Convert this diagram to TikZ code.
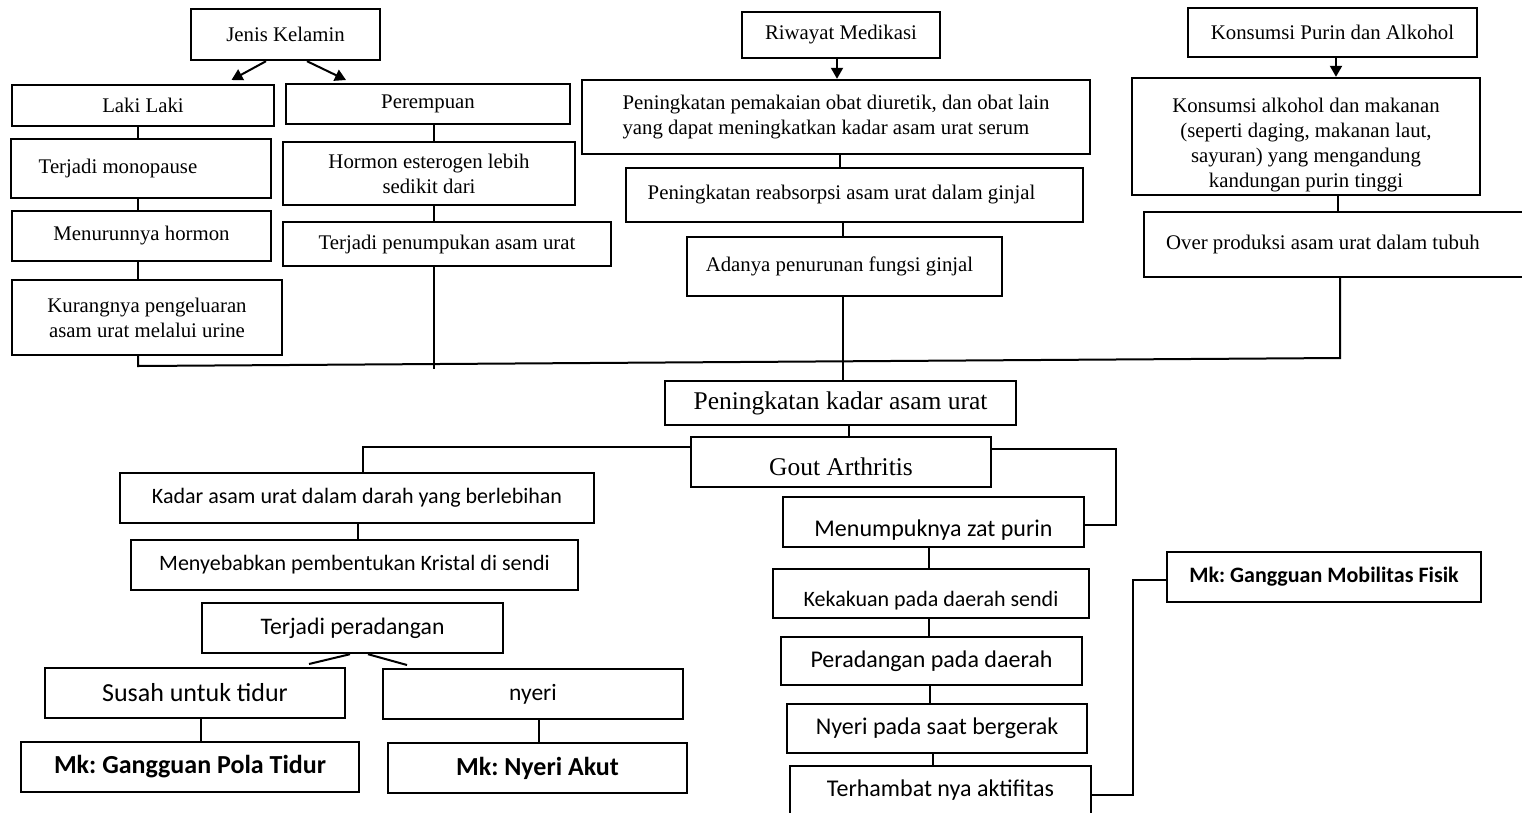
\documentclass[tikz,border=0pt]{standalone}
\usepackage{fontspec}
\setmainfont{Liberation Serif}
\newfontfamily\calibri{Carlito}
\usetikzlibrary{arrows.meta}
\frenchspacing

\begin{document}
\begin{tikzpicture}[x=1pt, y=-1pt, line width=2pt,
        box/.style = {draw, line width=2.4pt, inner sep=0pt, align=center},
        bx/.style 2 args = {minimum width=#1pt, minimum height=#2pt},
        serif/.style = {box, font=\fontsize{20.8}{25}\selectfont},
        big/.style = {box, font=\fontsize{25.5}{30}\selectfont},
        sans/.style = {box, font=\calibri\fontsize{#1}{#1}\selectfont},
        sans/.default = 24,
        mk/.style = {box, font=\calibri\bfseries\fontsize{#1}{#1}\selectfont},
        mk/.default = 26,
        tip/.style = {-{Triangle[width=12pt,length=11pt]}}]
    \useasboundingbox (0,0) rectangle (1522,812);

    % jenis kelamin
    \node[serif, bx={189}{51}] (jk) at (285.5,34.5) {Jenis Kelamin};
    \node[serif, bx={262}{41}] (laki) at (143,105.5) {Laki Laki};
    \node[serif, bx={284}{40}] (perem) at (428,104) {Perempuan};
    \node[serif, bx={260}{59}] (mono) at (141,168.5) {Terjadi monopause\hspace*{46pt}};
    \node[serif, bx={259}{50}] (turun) at (141.5,236) {Menurunnya hormon};
    \node[serif, bx={270}{75}] (kurang) at (147,317.5) {Kurangnya pengeluaran\\asam urat melalui urine};
    \node[serif, bx={292}{63}] (horm) at (429,173.5) {Hormon esterogen lebih\\sedikit dari};
    \node[serif, bx={328}{44}] (numpuk) at (447,244) {Terjadi penumpukan asam urat};

    % riwayat medikasi
    \node[serif, bx={198}{46}] (riwayat) at (841,35) {Riwayat Medikasi};
    \node[serif, bx={508}{74}, align=left] (obat) at (836,117) {Peningkatan pemakaian obat diuretik, dan obat lain\\yang dapat meningkatkan kadar asam urat serum};
    \node[serif, bx={457}{54}] (reabs) at (854.5,195) {Peningkatan reabsorpsi asam urat dalam ginjal\hspace*{26pt}};
    \node[serif, bx={315}{59}] (fungsi) at (844.5,266.5) {Adanya penurunan fungsi ginjal\hspace*{10pt}};

    % purin dan alkohol
    \node[serif, bx={289}{49}] (konsumsi) at (1332.5,32.5) {Konsumsi Purin dan Alkohol};
    \node[serif, bx={348}{117}] (alkohol) at (1306,136.5) {\rule{0pt}{32pt}Konsumsi alkohol dan makanan\\(seperti daging, makanan laut,\\sayuran) yang mengandung\\kandungan purin tinggi};
    \node[serif, bx={388}{65}] (over) at (1338,244.5) {Over produksi asam urat dalam tubuh\hspace*{30pt}};

    % tengah
    \node[big, bx={351}{44}] (kadar) at (840.5,403) {Peningkatan kadar asam urat};
    \node[big, bx={300}{50}] (gout) at (841,462) {\rule{0pt}{28pt}Gout Arthritis};

    % kiri bawah
    \node[sans=22, bx={474}{50}] (darah) at (357,498) {Kadar asam urat dalam darah yang berlebihan};
    \node[sans=22, bx={447}{50}] (kristal) at (354.5,565) {Menyebabkan pembentukan Kristal di sendi};
    \node[sans=23.7, bx={301}{50}] (radang) at (352.5,628) {Terjadi peradangan};
    \node[sans=26, bx={300}{50}] (susah) at (195,693) {Susah untuk tidur};
    \node[sans=23.5, bx={300}{50}] (nyeri) at (533,694) {nyeri};
    \node[mk, bx={338}{50}] (mktidur) at (190,767) {Mk: Gangguan Pola Tidur};
    \node[mk, bx={299}{50}] (mkakut) at (537.5,768) {Mk: Nyeri Akut};

    % kanan bawah
    \node[sans, bx={301}{50}] (purin) at (933.5,522) {\rule{0pt}{32pt}Menumpuknya zat purin};
    \node[sans=22, bx={316}{49}] (kaku) at (931,593.5) {\rule{0pt}{29pt}Kekakuan pada daerah sendi};
    \node[sans, bx={301}{48}] (daerah) at (931.5,661) {Peradangan pada daerah};
    \node[sans, bx={300}{49}] (gerak) at (937,728.5) {Nyeri pada saat bergerak};
    \node[sans, bx={301}{48}] (hambat) at (940.5,790) {Terhambat nya aktifitas};
    \node[mk=22, bx={314}{50}] (mobil) at (1324,577) {Mk: Gangguan Mobilitas Fisik};

    \coordinate (lakitip) at (231.5,80);
    \coordinate (peremtip) at (346,80);
    \coordinate (busL) at (138,366);
    \coordinate (busR) at (1340,358);
    \coordinate (numpukend) at (434,369);
    \coordinate (susahtip) at (309,664);
    \coordinate (nyeritip) at (407,665);

    % panah
    \draw[tip] (jk.south -| 266,0) -- (lakitip);
    \draw[tip] (jk.south -| 307,0) -- (peremtip);
    \draw[tip] (riwayat.south -| 837,0) -- (obat.north -| 837,0);
    \draw[tip] (konsumsi.south -| 1336,0) -- (alkohol.north -| 1336,0);

    % garis atas
    \draw (laki.south -| 138,0) -- (mono.north -| 138,0);
    \draw (mono.south -| 138,0) -- (turun.north -| 138,0);
    \draw (turun.south -| 138,0) -- (kurang.north -| 138,0);
    \draw (perem.south -| 434,0) -- (horm.north -| 434,0);
    \draw (horm.south -| 434,0) -- (numpuk.north -| 434,0);
    \draw (numpuk.south -| 434,0) -- (numpukend);
    \draw (obat.south -| 840,0) -- (reabs.north -| 840,0);
    \draw (reabs.south -| 843,0) -- (fungsi.north -| 843,0);
    \draw (alkohol.south -| 1338,0) -- (over.north -| 1338,0);
    \draw (kurang.south -| busL) -- (busL) -- (busR) -- (over.south -| busR);
    \draw (fungsi.south -| 843,0) -- (kadar.north -| 843,0);
    \draw (kadar.south -| 849,0) -- (gout.north -| 849,0);

    % garis bawah
    \draw (gout.west |- 0,447) -| (darah.north -| 363,0);
    \draw (gout.east |- 0,449) -- (1116,449) |- (purin.east |- 0,525);
    \draw (darah.south -| 358,0) -- (kristal.north -| 358,0);
    \draw (radang.south -| 350,0) -- (susahtip);
    \draw (radang.south -| 368,0) -- (nyeritip);
    \draw (susah.south -| 201,0) -- (mktidur.north -| 201,0);
    \draw (nyeri.south -| 539,0) -- (mkakut.north -| 539,0);
    \draw (purin.south -| 929,0) -- (kaku.north -| 929,0);
    \draw (kaku.south -| 929,0) -- (daerah.north -| 929,0);
    \draw (daerah.south -| 930,0) -- (gerak.north -| 930,0);
    \draw (gerak.south -| 933,0) -- (hambat.north -| 933,0);
    \draw (hambat.east |- 0,795) -| (1133,580) -- (mobil.west |- 0,580);
\end{tikzpicture}
\end{document}
